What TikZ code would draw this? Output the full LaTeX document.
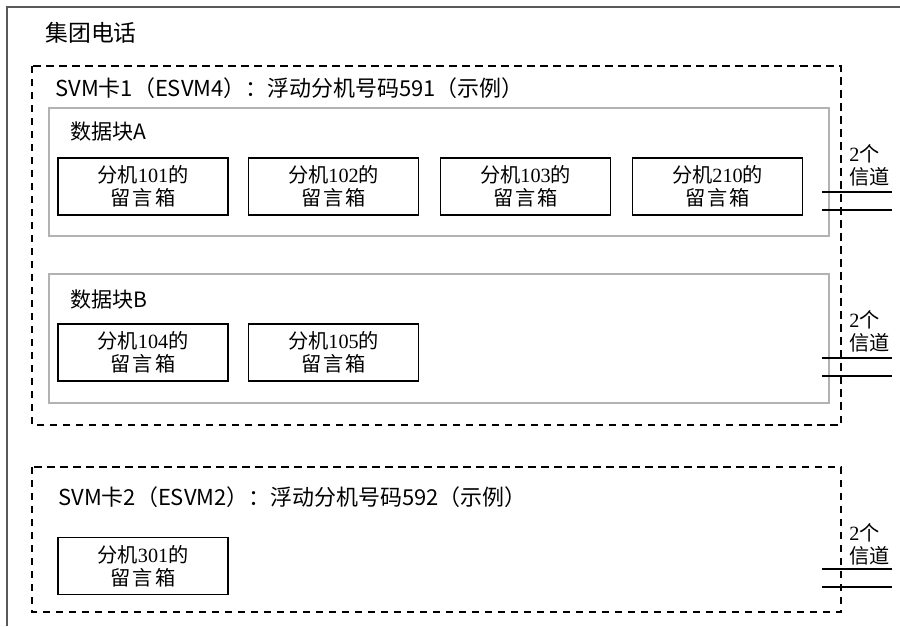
\documentclass[tikz,border=0pt]{standalone}
\usepackage{fontspec}
\setmainfont{Liberation Serif}
\newfontfamily\cjk{Noto Sans CJK SC}
\usetikzlibrary{positioning}
\tikzset{
  vm frame/.style={
    draw=gray!70!black,
    line width=1pt
  },
  vm card/.style={
    draw=black,
    line width=0.6pt,
    dash pattern=on 4.2pt off 3.2pt
  },
  vm block/.style={
    draw=gray!60,
    line width=0.8pt
  },
  vm box/.style={
    draw=black,
    line width=0.8pt,
    align=center,
    minimum width=3.4cm,
    minimum height=1.14cm,
    inner sep=1pt,
    font=\fontsize{11.5}{13}\selectfont
  },
  vm head/.style={
    anchor=west,
    inner sep=0pt,
    font=\cjk\fontsize{12}{14}\selectfont
  },
  vm chan/.style={
    draw=black,
    line width=0.6pt
  },
  vm chanlabel/.style={
    anchor=west,
    align=left,
    inner sep=0pt,
    font=\fontsize{11.5}{13}\selectfont
  }
}
\newcommand{\vmlabel}[1]{{\cjk 分机}#1{\cjk 的}\\{\cjk 留\hspace{1.2pt}言\hspace{1.2pt}箱}}
\newcommand{\vmchan}{2{\cjk 个}\\{\cjk 信道}}

\begin{document}
\begin{tikzpicture}[x=0.02cm, y=-0.02cm]
        \useasboundingbox (0,0) rectangle (900,626);

        % outer frame
        \draw[vm frame] (7,626) -- (7,7) -- (900,7);
        \node[vm head,font=\cjk\fontsize{13}{15}\selectfont] (title) at (45,33) {集团电话};

        % card 1
        \draw[vm card] (32,66) rectangle (841,425);
        \node[vm head,font=\cjk\fontsize{12.5}{14}\selectfont] (card1) at (55,88) {SVM卡1（ESVM4）：浮动分机号码591（示例）};

        \draw[vm block] (49,108) rectangle (829,236);
        \node[vm head] (blocka) at (70,132) {数据块A};
        \node[vm box] (mb101) at (143,186.5) {\vmlabel{101}};
        \node[vm box] (mb102) at (333.5,186.5) {\vmlabel{102}};
        \node[vm box] (mb103) at (525.5,186.5) {\vmlabel{103}};
        \node[vm box] (mb210) at (717.5,186.5) {\vmlabel{210}};

        \draw[vm block] (49,274) rectangle (829,403);
        \node[vm head] (blockb) at (70,300) {数据块B};
        \node[vm box] (mb104) at (143,352.5) {\vmlabel{104}};
        \node[vm box] (mb105) at (333.5,352.5) {\vmlabel{105}};

        % card 2
        \draw[vm card] (32,467) rectangle (841,612);
        \node[vm head,font=\cjk\fontsize{12.5}{14}\selectfont] (card2) at (58,497) {SVM卡2（ESVM2）：浮动分机号码592（示例）};
        \node[vm box] (mb301) at (143,566) {\vmlabel{301}};

        % channels
        \coordinate (chaw1) at (822,192); \coordinate (chae1) at (892,192);
        \coordinate (chaw2) at (822,210); \coordinate (chae2) at (892,210);
        \coordinate (chbw1) at (822,358); \coordinate (chbe1) at (892,358);
        \coordinate (chbw2) at (822,376); \coordinate (chbe2) at (892,376);
        \coordinate (chcw1) at (822,569); \coordinate (chce1) at (892,569);
        \coordinate (chcw2) at (822,587); \coordinate (chce2) at (892,587);
        \draw[vm chan] (chaw1) -- (chae1);
        \draw[vm chan] (chaw2) -- (chae2);
        \draw[vm chan] (chbw1) -- (chbe1);
        \draw[vm chan] (chbw2) -- (chbe2);
        \draw[vm chan] (chcw1) -- (chce1);
        \draw[vm chan] (chcw2) -- (chce2);
        \node[vm chanlabel] (cha) at (849,165) {\vmchan};
        \node[vm chanlabel] (chb) at (849,331) {\vmchan};
        \node[vm chanlabel] (chc) at (849,544) {\vmchan};
      \end{tikzpicture}
\end{document}
